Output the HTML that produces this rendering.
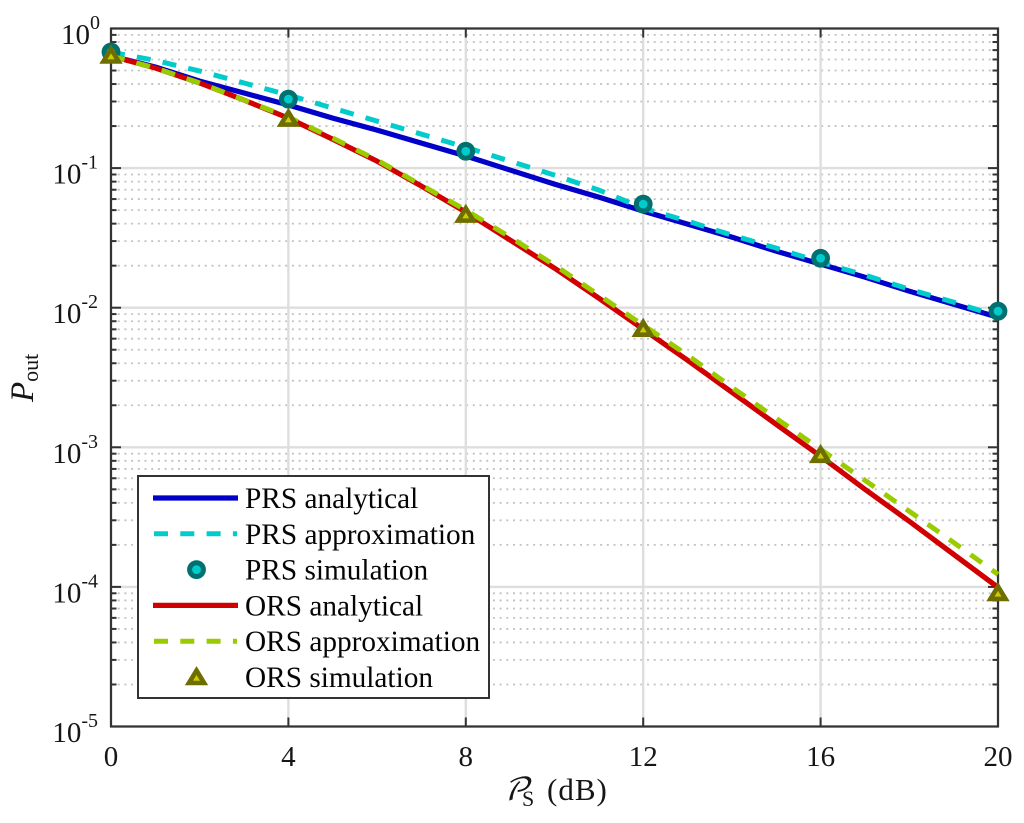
<!DOCTYPE html>
<html lang="en">
<head>
<meta charset="utf-8">
<title>Outage probability chart</title>
<style>
html,body{margin:0;padding:0;background:#fff;width:1024px;height:823px;overflow:hidden}
svg{display:block;filter:blur(0.35px)}
text{font-family:"Liberation Serif",serif;fill:#161616}
</style>
</head>
<body>
<svg id="chart" xmlns="http://www.w3.org/2000/svg" width="1024" height="823" viewBox="0 0 1024 823"></svg>
<script>
const snrDb = [0,1,2,3,4,5,6,7,8,9,10,11,12,13,14,15,16,17,18,19,20];
const prsAnalytical = [0.635,0.530,0.420,0.345,0.283,0.228,0.187,0.151,0.122,0.0968,0.0768,0.0620,0.0492,0.0397,0.0320,0.0254,0.0205,0.01654,0.01313,0.01059,0.00855];
const prsApproximation = [0.678,0.590,0.496,0.407,0.334,0.269,0.217,0.175,0.141,0.112,0.0891,0.0696,0.0517,0.0417,0.0331,0.0267,0.0212,0.0171,0.01357,0.01095,0.00869];
const orsAnalytical = [0.635,0.521,0.407,0.307,0.228,0.161,0.112,0.0743,0.0484,0.0305,0.0192,0.0117,0.00701,0.00420,0.00248,0.00146,0.000862,0.000500,0.000295,0.000171,0.0000992];
const orsApproximation = [0.635,0.521,0.407,0.307,0.232,0.164,0.114,0.0755,0.0500,0.0320,0.0202,0.0123,0.00749,0.00457,0.00269,0.00161,0.000967,0.000580,0.000348,0.000208,0.000123];
const simDb = [0,4,8,12,16,20];
const prsSimulation = [0.678,0.312,0.132,0.0552,0.0226,0.00944];
const orsSimulation = [0.646,0.228,0.0468,0.00713,0.000891,0.0000912];
const xTickLabels = [0,4,8,12,16,20];
const yTickExponents = [0,-1,-2,-3,-4,-5];
const minorMultipliers = [2,3,4,5,6,7,8,9];
const legendLabels = ["PRS analytical","PRS approximation","PRS simulation","ORS analytical","ORS approximation","ORS simulation"];

const NS = "http://www.w3.org/2000/svg";
const svg = document.getElementById("chart");
const L = 111, R = 998, T = 28.5, B = 726.5;
const xScale = d => L + (d - 0) / 20 * (R - L);
const yScale = v => T + (0 - Math.log10(v)) / 5 * (B - T);

function make(tag, attrs, parent) {
  const el = document.createElementNS(NS, tag);
  for (const k in attrs) el.setAttribute(k, attrs[k]);
  (parent || svg).appendChild(el);
  return el;
}
function group(name) {
  const g = make("g", {});
  
  
  return g;
}
function pathFrom(xs, ys) {
  return xs.map((x, i) => (i ? "L" : "M") + xScale(x).toFixed(2) + " " + yScale(ys[i]).toFixed(2)).join(" ");
}
function drawCircle(parent, cx, cy) {
  return make("circle", {cx: cx, cy: cy, r: 6.9, fill: "#00cccc", stroke: "#007070", "stroke-width": 5}, parent);
}
function drawTriangle(parent, cx, cy) {
  const pts = [[cx, cy - 6], [cx + 7.6, cy + 6.5], [cx - 7.6, cy + 6.5]].map(p => p.join(",")).join(" ");
  return make("polygon", {points: pts, fill: "#cccc00", stroke: "#6e6e00", "stroke-width": 4.6, "stroke-linejoin": "miter", "stroke-miterlimit": 6}, parent);
}

/* grid */
const gridG = group("grid");
yTickExponents.forEach(e => {
  if (e === -5) return;
  minorMultipliers.forEach(m => {
    const y = yScale(m * Math.pow(10, e - 1));
    const ln = make("line", {x1: L, x2: R, y1: y, y2: y, stroke: "#c2c2c2", "stroke-width": 1.8, "stroke-dasharray": "2 4.7"}, gridG);
    
    
  });
});
yTickExponents.forEach(e => {
  const y = yScale(Math.pow(10, e));
  const ln = make("line", {x1: L, x2: R, y1: y, y2: y, stroke: "#dedede", "stroke-width": 2.4}, gridG);
  
  
});
xTickLabels.forEach(t => {
  const x = xScale(t);
  const ln = make("line", {x1: x, x2: x, y1: T, y2: B, stroke: "#dedede", "stroke-width": 2.4}, gridG);
  
  
});

/* axes box and ticks */
const axesG = group("axes");
const box = make("rect", {x: L, y: T, width: R - L, height: B - T, fill: "none", stroke: "#333", "stroke-width": 2.2}, axesG);


xTickLabels.forEach(t => {
  const x = xScale(t);
  [[B, B - 9], [T, T + 9]].forEach(p => {
    const tk = make("line", {x1: x, x2: x, y1: p[0], y2: p[1], stroke: "#333", "stroke-width": 2}, axesG);
    
    
  });
  const lb = make("text", {x: x, y: 766, "text-anchor": "middle", "font-size": 29}, axesG);
  lb.textContent = String(t);
  
  
});
yTickExponents.forEach(e => {
  const y = yScale(Math.pow(10, e));
  [[L, L + 10], [R, R - 10]].forEach(p => {
    const tk = make("line", {x1: p[0], x2: p[1], y1: y, y2: y, stroke: "#333", "stroke-width": 2}, axesG);
    
    
  });
  if (e > -5) minorMultipliers.forEach(m => {
    const ym = yScale(m * Math.pow(10, e - 1));
    [[L, L + 5.5], [R, R - 5.5]].forEach(p => {
      const tk = make("line", {x1: p[0], x2: p[1], y1: ym, y2: ym, stroke: "#333", "stroke-width": 2}, axesG);
      
      
    });
  });
  const lb = make("text", {x: e === 0 ? 100 : 98, y: y + 15.5, "text-anchor": "end", "font-size": 29}, axesG);
  
  
  const base = make("tspan", {}, lb);
  base.textContent = "10";
  const sup = make("tspan", {dy: -15, "font-size": 20}, lb);
  sup.textContent = String(e);
});

/* series */
const prsLine = make("path", {d: pathFrom(snrDb, prsAnalytical), fill: "none", stroke: "#0000c8", "stroke-width": 5.2, "stroke-linejoin": "round"});


const prsDash = make("path", {d: pathFrom(snrDb, prsApproximation), fill: "none", stroke: "#00cccc", "stroke-width": 5, "stroke-dasharray": "14 12.3"});


const prsPts = group("prs-simulation-markers");
simDb.forEach((d, i) => {
  const c = drawCircle(prsPts, xScale(d), yScale(prsSimulation[i]));
  
  
});
const orsLine = make("path", {d: pathFrom(snrDb, orsAnalytical), fill: "none", stroke: "#d00000", "stroke-width": 5.2, "stroke-linejoin": "round"});


const orsDash = make("path", {d: pathFrom(snrDb, orsApproximation), fill: "none", stroke: "#99cc00", "stroke-width": 5, "stroke-dasharray": "14 12.3"});


const orsPts = group("ors-simulation-markers");
simDb.forEach((d, i) => {
  const c = drawTriangle(orsPts, xScale(d), yScale(orsSimulation[i]));
  
  
});

/* axis titles */
const xTitle = make("text", {x: 503, y: 800, "font-size": 31});


const xP = make("tspan", {"font-style": "italic", style: 'font-family:"DejaVu Math TeX Gyre","Liberation Serif",serif'}, xTitle);
xP.textContent = "𝒫";
const xS = make("tspan", {x: 522, y: 806, "font-size": 22}, xTitle);
xS.textContent = "S";
const xU = make("tspan", {x: 547, y: 800, "letter-spacing": 1}, xTitle);
xU.textContent = "(dB)";

const yTitle = make("text", {transform: "translate(33,402) rotate(-90)", "font-size": 33});


const yP = make("tspan", {"font-style": "italic"}, yTitle);
yP.textContent = "P";
const yS = make("tspan", {dy: 5, "font-size": 22}, yTitle);
yS.textContent = "out";

/* legend */
const legendG = group("legend");
const legendBox = make("rect", {x: 138, y: 476, width: 351, height: 222, fill: "#fff", stroke: "#333", "stroke-width": 2}, legendG);


const legendRowY = i => 498 + i * 35.8;
legendLabels.forEach((label, i) => {
  const y = legendRowY(i);
  const g = make("g", {}, legendG);
  
  
  if (i === 0) make("line", {x1: 153, x2: 238, y1: y, y2: y, stroke: "#0000c8", "stroke-width": 5.2}, g);
  if (i === 1) make("line", {x1: 154, x2: 237, y1: y, y2: y, stroke: "#00cccc", "stroke-width": 5, "stroke-dasharray": "14 12.3"}, g);
  if (i === 2) drawCircle(g, 196.5, y);
  if (i === 3) make("line", {x1: 153, x2: 238, y1: y, y2: y, stroke: "#d00000", "stroke-width": 5.2}, g);
  if (i === 4) make("line", {x1: 154, x2: 237, y1: y, y2: y, stroke: "#99cc00", "stroke-width": 5, "stroke-dasharray": "14 12.3"}, g);
  if (i === 5) drawTriangle(g, 196.5, y - 0.5);
  const t = make("text", {x: 245, y: y + 10, "font-size": 29.3, style: "fill:#050505"}, g);
  t.textContent = label;
});
</script>
</body>
</html>
